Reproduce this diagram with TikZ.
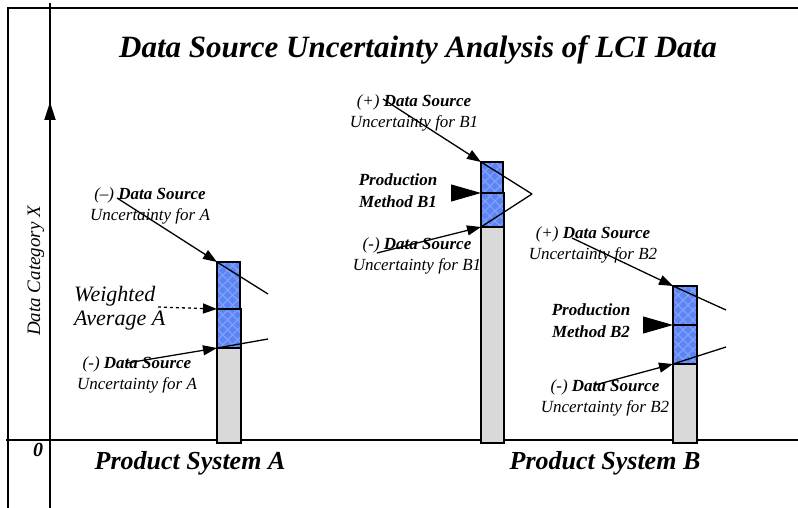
\documentclass[tikz,border=0pt]{standalone}
\usepackage{fontspec}
\setmainfont{Liberation Serif}
\usetikzlibrary{arrows.meta,patterns.meta}
\definecolor{boxblue}{RGB}{92,132,245}
\definecolor{boxlight}{RGB}{128,162,250}
\definecolor{bargray}{RGB}{217,217,217}
\begin{document}
\begin{tikzpicture}[x=1pt,y=-1pt,
  lbl/.style={align=center,inner sep=0,font=\fontsize{17}{21}\selectfont\itshape},
  pm/.style={align=center,inner sep=0,font=\fontsize{17}{22}\selectfont\bfseries\itshape},
  conn/.style={line width=1.3pt,-{Triangle[length=14pt,width=10pt]}},
  tailline/.style={line width=1.3pt},
  bigarr/.style={line width=1pt,-{Triangle[length=30pt,width=17pt]}},
  graybar/.style={fill=bargray,draw=black,line width=1.6pt},
  bluebox/.style={fill=boxblue,draw=black,line width=1.6pt},
  diag/.style={pattern={Lines[angle=#1,distance=7pt,line width=1.2pt]},pattern color=boxlight},
  axis/.style={line width=1.8pt}]
\useasboundingbox (0,0) rectangle (798,508);
\fill[white] (0,0) rectangle (798,508);

% frame and axes
\draw[axis] (798,8) -- (8,8) -- (8,508);
\coordinate (ytop) at (50,3);
\coordinate (ybot) at (50,508);
\coordinate (yhead) at (50,102);
\coordinate (yheadbase) at (50,122);
\draw[axis] (ytop) -- (ybot);
\draw[axis,-{Triangle[length=18pt,width=11pt]}] (yheadbase) -- (yhead);
\coordinate (xl) at (6,440);
\coordinate (xr) at (798,440);
\draw[axis] (xl) -- (xr);

% titles
\node[font=\fontsize{31}{34}\selectfont\bfseries\itshape] (title) at (418,50) {Data Source Uncertainty Analysis of LCI Data};
\node[font=\fontsize{26}{28}\selectfont\bfseries\itshape] (psA) at (190,463) {Product System A};
\node[font=\fontsize{26}{28}\selectfont\bfseries\itshape] (psB) at (605,463) {Product System B};
\node[font=\fontsize{20}{22}\selectfont\bfseries\itshape] (zero) at (38,450) {0};
\node[rotate=90,font=\fontsize{19}{21}\selectfont\itshape] (ylab) at (36,271) {Data Category X};

% labels
\node[lbl] (Aup) at (150,206) {(--) \textbf{Data Source}\\Uncertainty for A};
\node[lbl] (Alow) at (137,375) {(-) \textbf{Data Source}\\Uncertainty for A};
\node[align=left,inner sep=0,font=\fontsize{22}{24}\selectfont\itshape,anchor=west] (wavg) at (74,308) {Weighted\\Average A};
\node[lbl] (B1up) at (414,113) {(+) \textbf{Data Source}\\Uncertainty for B1};
\node[pm] (pmB1) at (398,191) {Production\\Method B1};
\node[lbl] (B1low) at (417,256) {(-) \textbf{Data Source}\\Uncertainty for B1};
\node[lbl] (B2up) at (593,245) {(+) \textbf{Data Source}\\Uncertainty for B2};
\node[pm] (pmB2) at (591,321) {Production\\Method B2};
\node[lbl] (B2low) at (605,398) {(-) \textbf{Data Source}\\Uncertainty for B2};

% bars A
\draw[graybar] (217,309) rectangle (241,443);
\draw[bluebox] (217,262) rectangle (240,309);
\path[diag=45] (217,262) rectangle (240,309);
\path[diag=-45] (217,262) rectangle (240,309);
\draw[black,line width=1.6pt] (217,262) rectangle (240,309);
\draw[bluebox] (217,309) rectangle (241,348);
\path[diag=45] (217,309) rectangle (241,348);
\path[diag=-45] (217,309) rectangle (241,348);
\draw[black,line width=1.6pt] (217,309) rectangle (241,348);
% bars B1
\draw[graybar] (481,193) rectangle (504,443);
\draw[bluebox] (481,162) rectangle (503,193);
\path[diag=45] (481,162) rectangle (503,193);
\path[diag=-45] (481,162) rectangle (503,193);
\draw[black,line width=1.6pt] (481,162) rectangle (503,193);
\draw[bluebox] (481,193) rectangle (504,227);
\path[diag=45] (481,193) rectangle (504,227);
\path[diag=-45] (481,193) rectangle (504,227);
\draw[black,line width=1.6pt] (481,193) rectangle (504,227);
% bars B2
\draw[graybar] (673,325) rectangle (697,443);
\draw[bluebox] (673,286) rectangle (697,325);
\path[diag=45] (673,286) rectangle (697,325);
\path[diag=-45] (673,286) rectangle (697,325);
\draw[black,line width=1.6pt] (673,286) rectangle (697,325);
\draw[bluebox] (673,325) rectangle (697,364);
\path[diag=45] (673,325) rectangle (697,364);
\path[diag=-45] (673,325) rectangle (697,364);
\draw[black,line width=1.6pt] (673,325) rectangle (697,364);

% connector coordinates
\coordinate (sAup) at (117,198);
\coordinate (cAtop) at (217,262);
\coordinate (eAup) at (268,294);
\coordinate (sAlow) at (127,363);
\coordinate (cAbot) at (217,348);
\coordinate (eAlow) at (268,339);
\coordinate (sW) at (158,307);
\coordinate (cAmid) at (217,309);
\coordinate (sB1up) at (383,99);
\coordinate (cB1top) at (481,162);
\coordinate (sB1low) at (377,253);
\coordinate (cB1bot) at (481,227);
\coordinate (eB1) at (532,194);
\coordinate (sPM1) at (452,193);
\coordinate (cB1mid) at (481,193);
\coordinate (sB2up) at (572,238);
\coordinate (cB2top) at (673,286);
\coordinate (eB2up) at (726,310);
\coordinate (sB2low) at (595,385);
\coordinate (cB2bot) at (673,364);
\coordinate (eB2low) at (726,347);
\coordinate (sPM2) at (644,325);
\coordinate (cB2mid) at (673,325);

% connectors
\draw[conn] (sAup) -- (cAtop);
\draw[tailline] (cAtop) -- (eAup);
\draw[conn] (sAlow) -- (cAbot);
\draw[tailline] (cAbot) -- (eAlow);
\draw[conn,dashed] (sW) -- (cAmid);
\draw[conn] (sB1up) -- (cB1top);
\draw[tailline] (cB1top) -- (eB1);
\draw[conn] (sB1low) -- (cB1bot);
\draw[tailline] (cB1bot) -- (eB1);
\draw[bigarr] (sPM1) -- (cB1mid);
\draw[conn] (sB2up) -- (cB2top);
\draw[tailline] (cB2top) -- (eB2up);
\draw[conn] (sB2low) -- (cB2bot);
\draw[tailline] (cB2bot) -- (eB2low);
\draw[bigarr] (sPM2) -- (cB2mid);
\end{tikzpicture}
\end{document}
